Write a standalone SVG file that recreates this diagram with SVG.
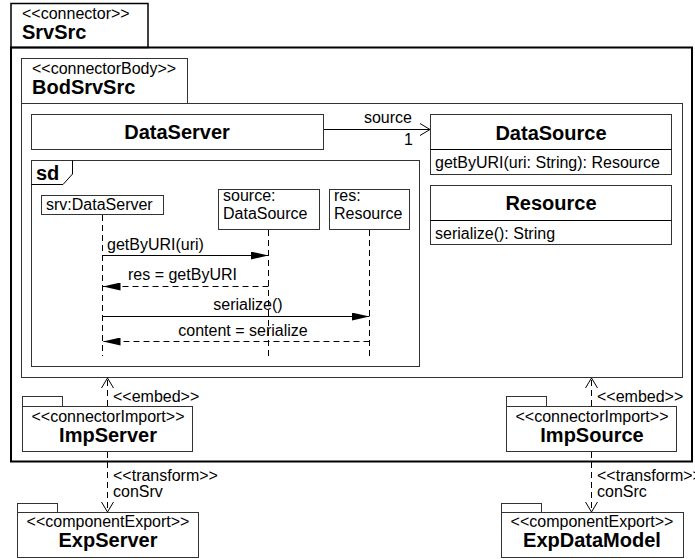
<svg xmlns="http://www.w3.org/2000/svg" width="695" height="559" viewBox="0 0 695 559">
<defs>
<style>
text{font-family:"Liberation Sans",Arial,sans-serif;fill:#000}
.r{font-size:16px}
.b{font-size:20px;font-weight:bold}
.c{text-anchor:middle}
.e{text-anchor:end}
.box{fill:#fff;stroke:#333;stroke-width:1}
.ln{fill:none;stroke:#000;stroke-width:1}
.dash{fill:none;stroke:#000;stroke-width:1;stroke-dasharray:6,4}
</style>
<marker id="fill" viewBox="0 0 18 8" refX="18" refY="4" markerWidth="18" markerHeight="8" markerUnits="userSpaceOnUse" orient="auto">
<path d="M0,0 L18,4 L0,8 z" fill="#000"/>
</marker>
<marker id="open" viewBox="0 0 11 14" refX="10" refY="7" markerWidth="11" markerHeight="14" markerUnits="userSpaceOnUse" orient="auto">
<path d="M0,1 L10,7 L0,13" fill="none" stroke="#000" stroke-width="1"/>
</marker>
</defs>
<rect width="695" height="559" fill="#fff"/>

<g id="SrvSrc">
<rect x="11" y="3.5" width="137" height="44" fill="#fff" stroke="#000" stroke-width="1.5"/>
<rect x="11" y="47.5" width="681" height="414" fill="none" stroke="#000" stroke-width="2"/>
<text class="r" x="22" y="19">&lt;&lt;connector&gt;&gt;</text>
<text class="b" x="22" y="39">SrvSrc</text>
</g>

<g id="BodSrvSrc">
<rect class="box" x="21.5" y="58.5" width="166" height="45"/>
<rect class="box" x="21.5" y="103.5" width="661" height="274"/>
<text class="r" x="32" y="74">&lt;&lt;connectorBody&gt;&gt;</text>
<text class="b" x="32" y="94">BodSrvSrc</text>
</g>

<g id="DataServer">
<rect class="box" x="31.5" y="114.5" width="292" height="35"/>
<text class="b c" x="177" y="139">DataServer</text>
</g>

<g id="DataSource">
<rect class="box" x="430.5" y="114.5" width="241" height="60"/>
<line class="ln" x1="430.5" y1="149.5" x2="671.5" y2="149.5" stroke="#333"/>
<text class="b c" x="551" y="140">DataSource</text>
<text class="r" x="435" y="168">getByURI(uri: String): Resource</text>
</g>

<g id="Resource">
<rect class="box" x="430.5" y="185.5" width="241" height="59"/>
<line class="ln" x1="430.5" y1="220.5" x2="671.5" y2="220.5" stroke="#333"/>
<text class="b c" x="551" y="210">Resource</text>
<text class="r" x="435" y="239">serialize(): String</text>
</g>

<g id="sd">
<rect class="box" x="31.5" y="160.5" width="388" height="206"/>
<path d="M31.5,184.5 L63,184.5 L72.5,174 L72.5,160.5" class="ln" stroke="#333"/>
<text class="b" x="36" y="180">sd</text>
</g>

<g id="srv">
<rect class="box" x="41.5" y="195.5" width="122" height="19"/>
<text class="r" x="46" y="210">srv:DataServer</text>
</g>
<g id="source">
<rect class="box" x="218.5" y="189.5" width="101" height="40"/>
<text class="r" x="223" y="201">source:</text>
<text class="r" x="223" y="219">DataSource</text>
</g>
<g id="res">
<rect class="box" x="329.5" y="189.5" width="80" height="40"/>
<text class="r" x="334" y="201">res:</text>
<text class="r" x="334" y="219">Resource</text>
</g>

<g id="ImpServer">
<rect class="box" x="22.5" y="396.5" width="40" height="10"/>
<rect class="box" x="22.5" y="406.5" width="170" height="45"/>
<text class="r c" x="108" y="422">&lt;&lt;connectorImport&gt;&gt;</text>
<text class="b c" x="108" y="442">ImpServer</text>
</g>
<g id="ImpSource">
<rect class="box" x="506.5" y="396.5" width="40" height="10"/>
<rect class="box" x="506.5" y="406.5" width="170" height="45"/>
<text class="r c" x="592" y="422">&lt;&lt;connectorImport&gt;&gt;</text>
<text class="b c" x="592" y="442">ImpSource</text>
</g>
<g id="ExpServer">
<rect class="box" x="17.5" y="503.5" width="40" height="9"/>
<rect class="box" x="17.5" y="512.5" width="181" height="45"/>
<text class="r c" x="108" y="527">&lt;&lt;componentExport&gt;&gt;</text>
<text class="b c" x="108" y="547">ExpServer</text>
</g>
<g id="ExpDataModel">
<rect class="box" x="501.5" y="503.5" width="40" height="9"/>
<rect class="box" x="501.5" y="512.5" width="182" height="45"/>
<text class="r c" x="592" y="527">&lt;&lt;componentExport&gt;&gt;</text>
<text class="b c" x="592" y="547">ExpDataModel</text>
</g>

<g id="connectors">
<line class="ln" x1="324" y1="129.5" x2="430" y2="129.5" marker-end="url(#open)"/>
<text class="r e" x="412" y="123">source</text>
<text class="r e" x="413" y="145">1</text>

<line class="dash" x1="102.5" y1="215" x2="102.5" y2="356"/>
<line class="dash" x1="268.5" y1="230" x2="268.5" y2="356"/>
<line class="dash" x1="369.5" y1="230" x2="369.5" y2="356"/>

<line class="ln" x1="102.5" y1="255.5" x2="268.5" y2="255.5" marker-end="url(#fill)"/>
<text class="r" x="107" y="250">getByURI(uri)</text>
<line class="dash" x1="268.5" y1="286.5" x2="102.5" y2="286.5" marker-end="url(#fill)"/>
<text class="r" x="128" y="280">res = getByURI</text>
<line class="ln" x1="102.5" y1="316.5" x2="369.5" y2="316.5" marker-end="url(#fill)"/>
<text class="r c" x="248" y="310">serialize()</text>
<line class="dash" x1="369.5" y1="341.5" x2="102.5" y2="341.5" marker-end="url(#fill)"/>
<text class="r c" x="243" y="336">content = serialize</text>

<line class="dash" x1="107.5" y1="406" x2="107.5" y2="378" marker-end="url(#open)"/>
<text class="r" x="113" y="402">&lt;&lt;embed&gt;&gt;</text>
<line class="dash" x1="591.5" y1="406" x2="591.5" y2="378" marker-end="url(#open)"/>
<text class="r" x="597" y="402">&lt;&lt;embed&gt;&gt;</text>

<line class="dash" x1="107.5" y1="452" x2="107.5" y2="512" marker-end="url(#open)"/>
<text class="r" x="113" y="481">&lt;&lt;transform&gt;&gt;</text>
<text class="r" x="113" y="497">conSrv</text>
<line class="dash" x1="591.5" y1="452" x2="591.5" y2="512" marker-end="url(#open)"/>
<text class="r" x="597" y="481">&lt;&lt;transform&gt;&gt;</text>
<text class="r" x="597" y="497">conSrc</text>
</g>
</svg>
